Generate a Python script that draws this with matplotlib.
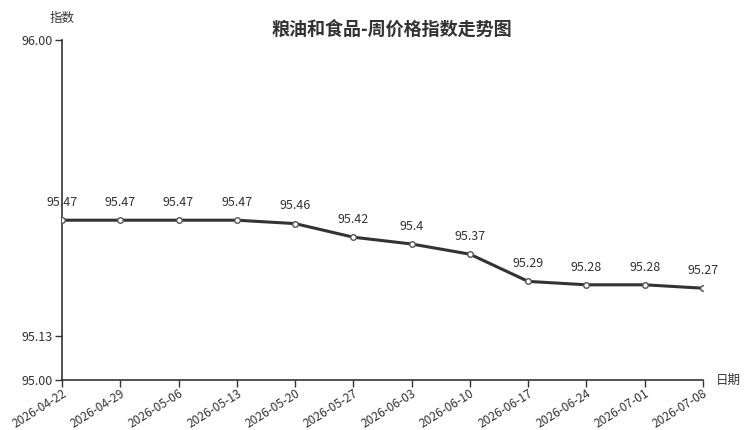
import matplotlib
matplotlib.use('Agg')
import matplotlib.pyplot as plt

plt.rcParams['font.family'] = ['Noto Sans CJK SC', 'DejaVu Sans']

dates = ['2026-04-22', '2026-04-29', '2026-05-06', '2026-05-13', '2026-05-20', '2026-05-27',
         '2026-06-03', '2026-06-10', '2026-06-17', '2026-06-24', '2026-07-01', '2026-07-08']
values = [95.47, 95.47, 95.47, 95.47, 95.46, 95.42, 95.4, 95.37, 95.29, 95.28, 95.28, 95.27]
yticks = [95.00, 95.13, 96.00]

fig = plt.figure(figsize=(7.5, 4.3), dpi=100)
ax = fig.add_axes([62 / 750, 50 / 430, 641 / 750, 340 / 430])

x = list(range(len(dates)))
ax.plot(x, values, color='#333333', lw=2.2, marker='o', ms=4,
        mfc='white', mec='#555555', mew=1, zorder=3)
for xi, v in zip(x, values):
    ax.annotate(f'{v:g}', (xi, v), xytext=(0, 8), textcoords='offset points',
                ha='center', va='bottom', fontsize=9, color='#333333')

ax.set_xlim(0, len(dates) - 1)
ax.set_ylim(95.0, 96.0)
ax.set_yticks(yticks)
ax.set_yticklabels([f'{t:.2f}' for t in yticks])
ax.set_xticks(x)
ax.set_xticklabels(dates, rotation=32, ha='right', rotation_mode='anchor', fontsize=8.6)

for s in ['top', 'right']:
    ax.spines[s].set_visible(False)
for s in ['left', 'bottom']:
    ax.spines[s].set_color('#333333')
    ax.spines[s].set_linewidth(1.2)
ax.tick_params(axis='both', colors='#333333', length=5, width=1)
ax.tick_params(axis='y', labelsize=9, pad=2)
ax.tick_params(axis='x', pad=0)

fig.text(62 / 750, 1 - 18 / 430, '指数', ha='center', va='center', fontsize=9, color='#333333')
fig.text(728 / 750, 1 - 380 / 430, '日期', ha='center', va='center', fontsize=9, color='#333333')
fig.text(392 / 750, 1 - 29 / 430, '粮油和食品-周价格指数走势图', ha='center', va='center',
         fontsize=13, fontweight='bold', color='#333333')

fig.savefig('out.png', dpi=100)
